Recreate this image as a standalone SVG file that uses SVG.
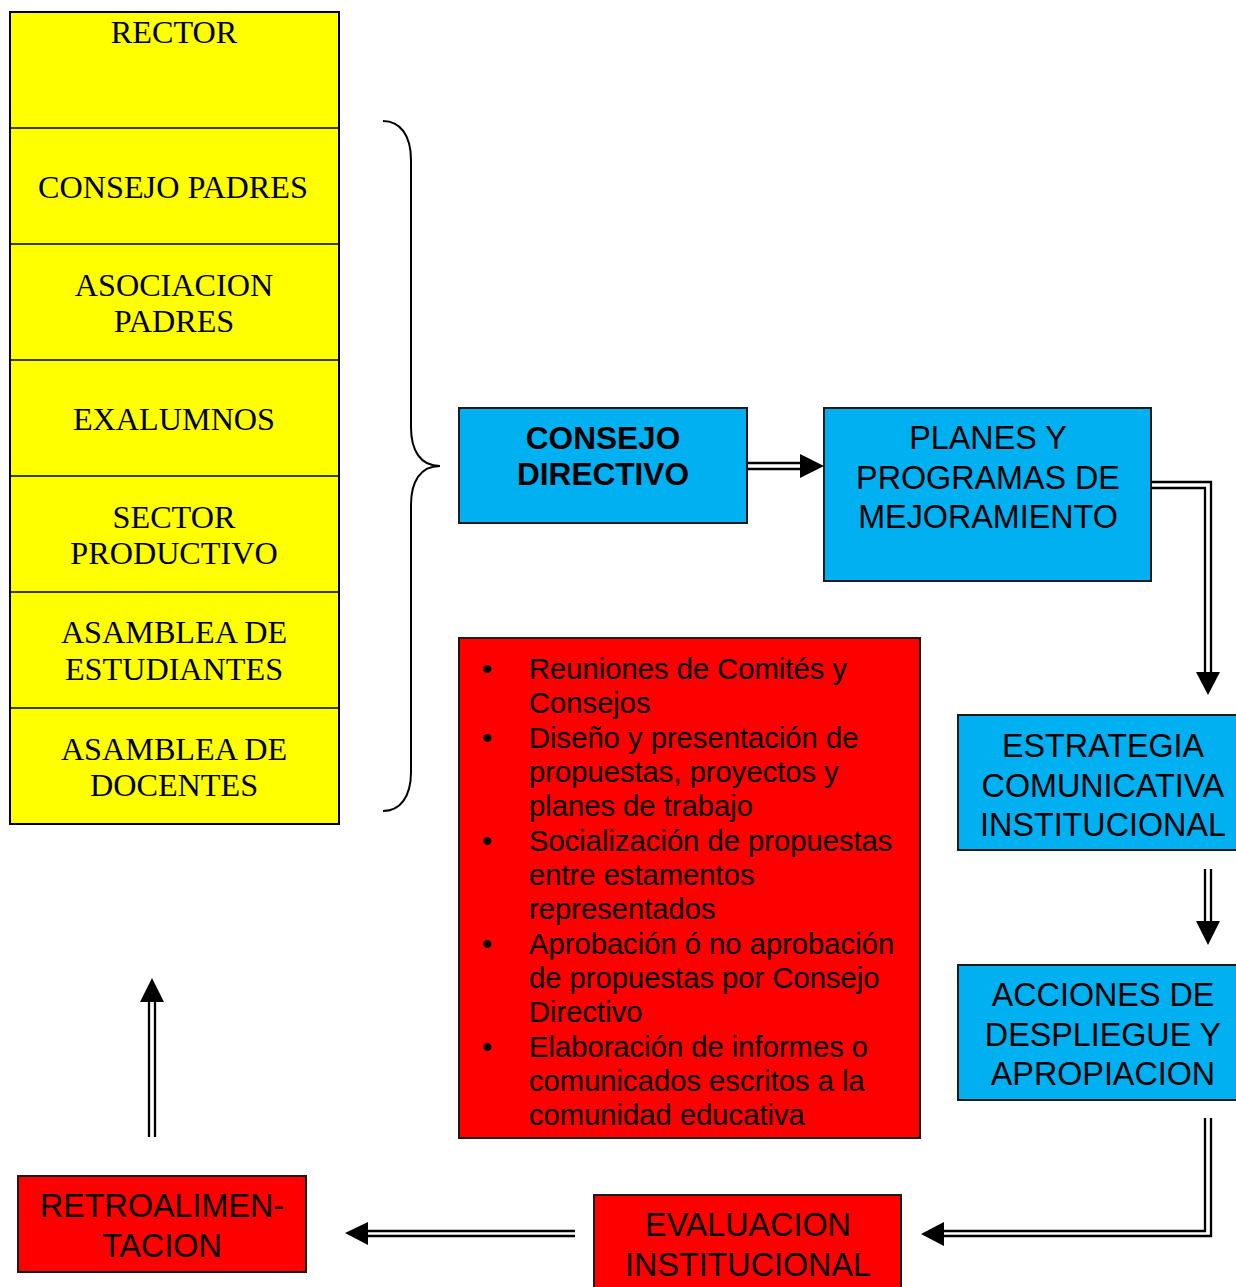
<svg xmlns="http://www.w3.org/2000/svg" width="1236" height="1287" viewBox="0 0 1236 1287">
<defs>
<style>
.serif{font-family:"Liberation Serif","Times New Roman",serif;font-size:32.2px;fill:#000;text-anchor:middle}
.sans{font-family:"Liberation Sans",Arial,sans-serif;font-size:32.3px;fill:#000;text-anchor:middle}
.bold{font-size:31.6px;font-weight:bold}
.list{font-family:"Liberation Sans",Arial,sans-serif;font-size:29.2px;fill:#000}
.blue{fill:#00B0F0;stroke:#1a1a1a;stroke-width:2}
.red{fill:#FF0000;stroke:#1a1a1a;stroke-width:2}
.yellow{fill:#FFFF00;stroke:#000;stroke-width:2}
.line{fill:none;stroke:#000;stroke-width:2.3}
.head{fill:#000}
</style>
</defs>
<rect width="1236" height="1287" fill="#fff"/>

<g id="col-yellow">
<rect class="yellow" x="10" y="12" width="329" height="812"/>
<line x1="10" y1="128" x2="339" y2="128" stroke="#000" stroke-width="1.5"/>
<line x1="10" y1="244" x2="339" y2="244" stroke="#000" stroke-width="1.5"/>
<line x1="10" y1="360" x2="339" y2="360" stroke="#000" stroke-width="1.5"/>
<line x1="10" y1="476" x2="339" y2="476" stroke="#000" stroke-width="1.5"/>
<line x1="10" y1="592" x2="339" y2="592" stroke="#000" stroke-width="1.5"/>
<line x1="10" y1="708" x2="339" y2="708" stroke="#000" stroke-width="1.5"/>
</g>
<g id="rector"><text class="serif" x="174" y="43">RECTOR</text></g>
<g id="consejo-padres"><text class="serif" x="173" y="198">CONSEJO PADRES</text></g>
<g id="asociacion-padres"><text class="serif" x="174" y="296">ASOCIACION</text><text class="serif" x="174" y="332">PADRES</text></g>
<g id="exalumnos"><text class="serif" x="174" y="430">EXALUMNOS</text></g>
<g id="sector-productivo"><text class="serif" x="174" y="528">SECTOR</text><text class="serif" x="174" y="564">PRODUCTIVO</text></g>
<g id="asamblea-estudiantes"><text class="serif" x="174" y="643">ASAMBLEA DE</text><text class="serif" x="174" y="680">ESTUDIANTES</text></g>
<g id="asamblea-docentes"><text class="serif" x="174" y="760">ASAMBLEA DE</text><text class="serif" x="174" y="796">DOCENTES</text></g>

<g id="brace">
<path d="M383,121 C400,121 411,135 411,160 L411,427 C411,450 420,466 440,466 C420,466 411,482 411,505 L411,772 C411,797 400,811 383,811" fill="none" stroke="#000" stroke-width="2"/>
</g>

<g id="consejo-directivo">
<rect class="blue" x="459" y="408" width="288" height="115"/>
<text class="sans bold" x="603" y="449">CONSEJO</text>
<text class="sans bold" x="603" y="485">DIRECTIVO</text>
</g>

<g id="planes">
<rect class="blue" x="824" y="408" width="327" height="173"/>
<text class="sans" x="988" y="449">PLANES Y</text>
<text class="sans" x="988" y="489">PROGRAMAS DE</text>
<text class="sans" x="988" y="528">MEJORAMIENTO</text>
</g>

<g id="estrategia">
<rect class="blue" x="958" y="715" width="290" height="135"/>
<text class="sans" x="1103" y="757">ESTRATEGIA</text>
<text class="sans" x="1103" y="797">COMUNICATIVA</text>
<text class="sans" x="1103" y="836">INSTITUCIONAL</text>
</g>

<g id="acciones">
<rect class="blue" x="958" y="965" width="290" height="135"/>
<text class="sans" x="1103" y="1006">ACCIONES DE</text>
<text class="sans" x="1103" y="1046">DESPLIEGUE Y</text>
<text class="sans" x="1103" y="1085">APROPIACION</text>
</g>

<g id="evaluacion">
<rect class="red" x="594" y="1195" width="307" height="100"/>
<text class="sans" x="748" y="1236">EVALUACION</text>
<text class="sans" x="748" y="1276">INSTITUCIONAL</text>
</g>

<g id="retroalimentacion">
<rect class="red" x="18" y="1176" width="288" height="96" stroke-width="2.5"/>
<text class="sans" x="162" y="1217">RETROALIMEN-</text>
<text class="sans" x="162" y="1257">TACION</text>
</g>

<g id="actividades">
<rect class="red" x="459" y="638" width="461" height="500"/>
<g class="list">
<text x="487" y="679" text-anchor="middle">•</text>
<text x="529" y="679">Reuniones de Comités y</text>
<text x="529" y="713">Consejos</text>
<text x="487" y="748" text-anchor="middle">•</text>
<text x="529" y="748">Diseño y presentación de</text>
<text x="529" y="782">propuestas, proyectos y</text>
<text x="529" y="816">planes de trabajo</text>
<text x="487" y="851" text-anchor="middle">•</text>
<text x="529" y="851">Socialización de propuestas</text>
<text x="529" y="885">entre estamentos</text>
<text x="529" y="919">representados</text>
<text x="487" y="954" text-anchor="middle">•</text>
<text x="529" y="954">Aprobación ó no aprobación</text>
<text x="529" y="988">de propuestas por Consejo</text>
<text x="529" y="1022">Directivo</text>
<text x="487" y="1057" text-anchor="middle">•</text>
<text x="529" y="1057">Elaboración de informes o</text>
<text x="529" y="1091">comunicados escritos a la</text>
<text x="529" y="1125">comunidad educativa</text>
</g>
</g>

<g id="connectors">
<line class="line" x1="748" y1="463" x2="802" y2="463"/>
<line class="line" x1="748" y1="469" x2="802" y2="469"/>
<polygon class="head" points="800,454 824,466 800,478"/>
<path class="line" d="M1151,482 H1211 V675"/>
<path class="line" d="M1151,488 H1205 V675"/>
<polygon class="head" points="1196,672 1220,672 1208,695"/>
<line class="line" x1="1205" y1="869" x2="1205" y2="924"/>
<line class="line" x1="1211" y1="869" x2="1211" y2="924"/>
<polygon class="head" points="1196,921 1220,921 1208,945"/>
<path class="line" d="M1211,1118 V1236 H942"/>
<path class="line" d="M1205,1118 V1231 H942"/>
<polygon class="head" points="944,1222 944,1246 921,1234"/>
<line class="line" x1="575" y1="1231" x2="366" y2="1231"/>
<line class="line" x1="575" y1="1236" x2="366" y2="1236"/>
<polygon class="head" points="368,1222 368,1245 345,1233"/>
<line class="line" x1="149" y1="1137" x2="149" y2="999"/>
<line class="line" x1="155" y1="1137" x2="155" y2="999"/>
<polygon class="head" points="140,1002 164,1002 152,978"/>
</g>
</svg>
